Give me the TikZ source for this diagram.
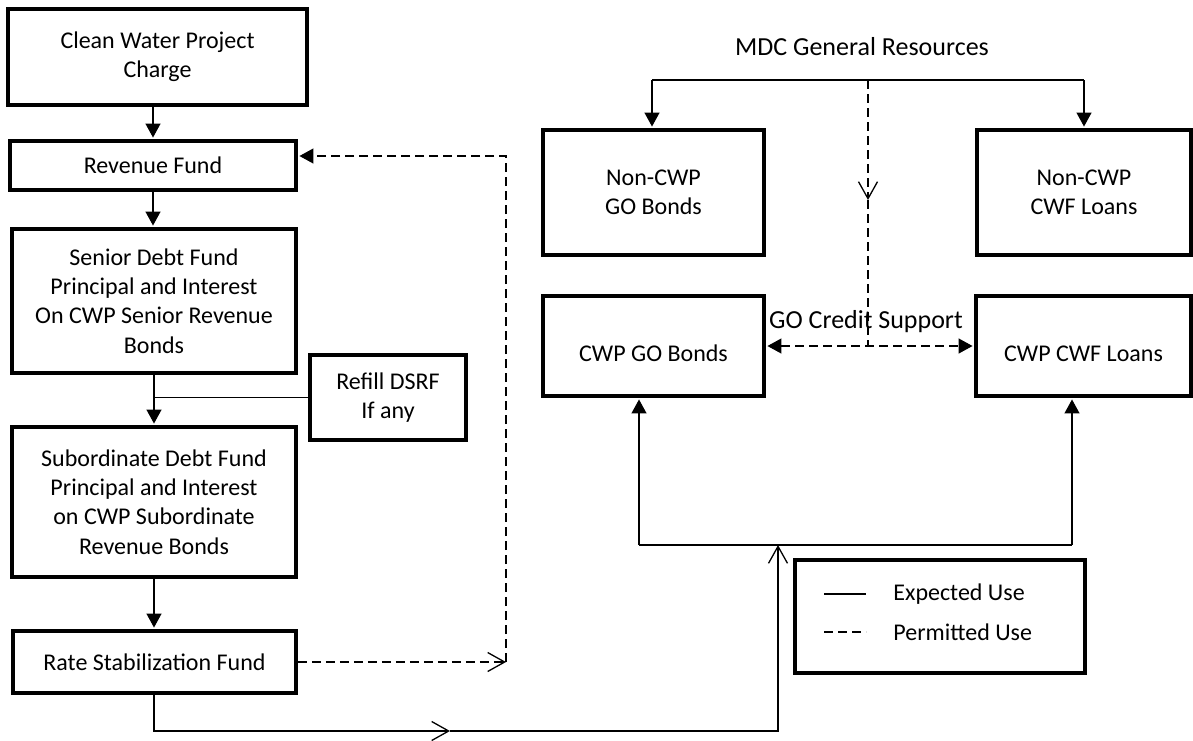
\documentclass[tikz,border=0pt]{standalone}
\usepackage{fontspec}
\setmainfont{Carlito}
\usetikzlibrary{arrows.meta}

\tikzset{
  >={Triangle[length=7pt,width=7.5pt]},
  fund/.style  = {draw, line width=1.75pt, align=center, inner sep=0pt,
                  font=\fontsize{12}{14.6}\selectfont},
  cwp/.style   = {text height=16pt},
  caption/.style = {inner sep=0pt, font=\fontsize{13}{15}\selectfont},
  keytext/.style = {inner sep=0pt, anchor=west, font=\fontsize{12}{14.6}\selectfont},
  flow/.style  = {line width=0.65pt},
  tip/.style   = {flow, ->, shorten >=0.85pt},
  barb/.style  = {flow, -{Straight Barb[length=8.5pt,width=9.5pt]}},
  maybe/.style = {flow, dash pattern=on 4.5pt off 2.5pt},
}

\begin{document}
\begin{tikzpicture}[x=0.5pt, y=-0.5pt]

  \useasboundingbox (0,0) rectangle (1193,740);

  % funds on the left
  \node[fund, minimum width=149.5pt, minimum height=48pt]   (charge)   at (157.5, 57)   {Clean Water Project\\Charge};
  \node[fund, minimum width=143pt,   minimum height=24.5pt] (revfund)  at (153, 165.5)  {Revenue Fund};
  \node[fund, minimum width=142pt,   minimum height=72pt]   (senior)   at (154, 301)    {Senior Debt Fund\\Principal and Interest\\On CWP Senior Revenue\\Bonds};
  \node[fund, minimum width=78pt,    minimum height=42.5pt] (refill)   at (388, 397.5)  {Refill DSRF\\If any};
  \node[fund, minimum width=142pt,   minimum height=75pt]   (subord)   at (154, 502)    {Subordinate Debt Fund\\Principal and Interest\\on CWP Subordinate\\Revenue Bonds};
  \node[fund, minimum width=141.5pt, minimum height=31pt]   (ratefund) at (154.5, 662)  {Rate Stabilization Fund};

  % bonds and loans on the right
  \node[caption] (mdc)  at (862, 47)  {MDC General Resources};
  \node[fund, minimum width=110.5pt, minimum height=62.5pt]      (ncgo)   at (653.5, 192.5)  {Non-CWP\\GO Bonds};
  \node[fund, minimum width=107pt,   minimum height=62.5pt]      (nccwf)  at (1084, 192.5)   {Non-CWP\\CWF Loans};
  \node[fund, cwp, minimum width=110.5pt, minimum height=50pt]   (cwpgo)  at (653.5, 346)    {CWP GO Bonds};
  \node[fund, cwp, minimum width=107.5pt, minimum height=50pt]   (cwpcwf) at (1083.5, 346)   {CWP CWF Loans};
  \node[caption] (gocs) at (866, 322) {GO Credit Support};

  % legend
  \node[fund, minimum width=145pt, minimum height=56.5pt] (legend) at (940, 616.5) {};
  \node[keytext] (lgexp)  at (893, 594) {Expected Use};
  \node[keytext] (lgperm) at (893, 632) {Permitted Use};
  \coordinate (solidl) at (824, 594);
  \coordinate (dashl)  at (824, 632);
  \draw[flow]  (solidl) -- (solidl -| 866, 0);
  \draw[maybe] (dashl)  -- (dashl -| 866, 0);

  % down the waterfall
  \draw[tip]  (revfund.north |- charge.south) -- (revfund.north);
  \draw[tip]  (revfund.south) -- (revfund.south |- senior.north);
  \draw[tip]  (senior.south)  -- (subord.north);
  \draw[flow] (refill.west)   -- (refill.west -| senior.south);
  \draw[tip]  (subord.south)  -- (subord.south |- ratefund.north);

  % rate stabilization fund back to revenue fund
  \coordinate (dturn) at (506, 662);
  \coordinate (dtop)  at (506, 156);
  \draw[maybe, barb] (ratefund.east) -- (dturn);
  \draw[maybe, tip]  (dturn) -- (dtop) -- (dtop -| revfund.east);

  % rate stabilization fund to the CWP debt
  \coordinate (botl) at (154, 731);
  \coordinate (botm) at (450, 731);
  \coordinate (botr) at (778, 731);
  \coordinate (join) at (778, 545);
  \coordinate (upl)  at (639, 545);
  \coordinate (upr)  at (1072, 545);
  \draw[barb] (ratefund.south -| botl) -- (botl) -- (botm);
  \draw[barb] (botm) -- (botr) -- (join);
  \draw[flow] (upl) -- (upr);
  \draw[tip]  (upl) -- (upl |- cwpgo.south);
  \draw[tip]  (upr) -- (upr |- cwpcwf.south);

  % general resources
  \coordinate (barl)  at (652, 80);
  \coordinate (barr)  at (1084, 80);
  \coordinate (gotop) at (868, 80);
  \coordinate (gomid) at (868, 200);
  \draw[flow] (barl) -- (barr);
  \draw[tip]  (barl) -- (barl |- ncgo.north);
  \draw[tip]  (barr) -- (barr |- nccwf.north);
  \draw[maybe, barb] (gotop) -- (gomid);
  \draw[maybe] (gomid) -- (gomid |- cwpgo.east);
  \draw[maybe, <->, shorten >=0.85pt, shorten <=0.85pt] (cwpgo.east) -- (cwpcwf.west);

\end{tikzpicture}
\end{document}
